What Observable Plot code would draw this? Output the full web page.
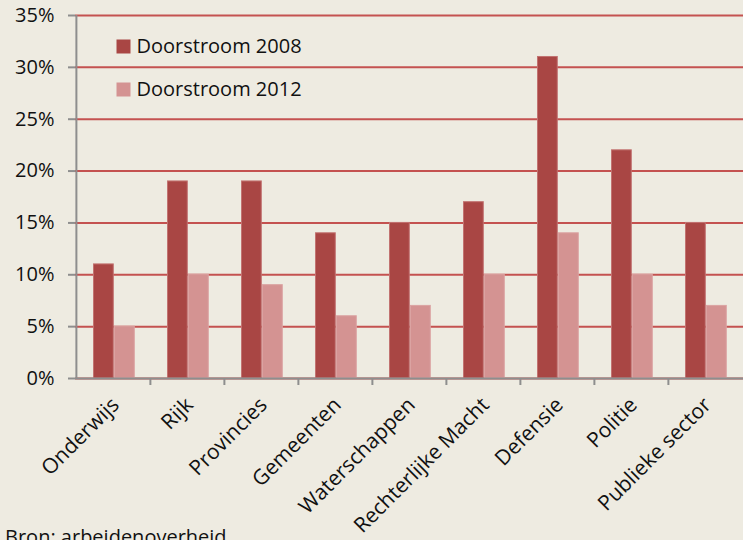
<!DOCTYPE html>
<html>
<head>
<meta charset="utf-8">
<script src="https://cdn.jsdelivr.net/npm/d3@7"></script>
<script src="https://cdn.jsdelivr.net/npm/@observablehq/plot@0.6"></script>
<style>
  html, body { margin: 0; padding: 0; background: #EEEBE1; overflow: hidden; }
  #chart { width: 743px; height: 540px; position: relative; font-family: "Open Sans", sans-serif; }
  #chart svg { position: absolute; left: 0; top: 0; }
  #caption { position: absolute; left: 5px; top: 527px; font-size: 20px; line-height: 1; color: #111; white-space: nowrap; }
</style>
</head>
<body>
<div id="chart"></div>
<script>
const categories = ["Onderwijs", "Rijk", "Provincies", "Gemeenten", "Waterschappen", "Rechterlijke Macht", "Defensie", "Politie", "Publieke sector"];
const series = ["Doorstroom 2008", "Doorstroom 2012"];
const values2008 = [11, 19, 19, 14, 15, 17, 31, 22, 15];
const values2012 = [5, 10, 9, 6, 7, 10, 14, 10, 7];
const yTicks = [0, 5, 10, 15, 20, 25, 30, 35];
const caption = "Bron: arbeidenoverheid";

const colors = {"Doorstroom 2008": "#A94644", "Doorstroom 2012": "#D49392"};
const outlines = {"Doorstroom 2008": "#C27371", "Doorstroom 2012": "#DBA3A2"};
const grid = "#C45250";
const axisGray = "#8E8E8E";

const d08 = categories.map((c, i) => ({category: c, value: values2008[i]}));
const d12 = categories.map((c, i) => ({category: c, value: values2012[i]}));

const width = 743, marginLeft = 75, marginRight = 0;
const bw = (width - marginLeft - marginRight) / categories.length;

const chart = Plot.plot({
  width,
  height: 540,
  marginLeft,
  marginRight,
  marginTop: 15,
  marginBottom: 162,
  style: {background: "transparent", fontFamily: "Open Sans, sans-serif", fontSize: "20px", color: "#111"},
  x: {domain: categories, padding: 0, axis: null},
  y: {domain: [0, 35], axis: null, label: null},
  marks: [
    Plot.ruleY(yTicks, {y: d => d, stroke: grid, strokeWidth: 2}),
    Plot.barY(d08, {x: "category", y: "value", fill: colors[series[0]], stroke: outlines[series[0]], strokeWidth: 1, insetLeft: 17.5, insetRight: bw - 37.5}),
    Plot.barY(d12, {x: "category", y: "value", fill: colors[series[1]], stroke: outlines[series[1]], strokeWidth: 1, insetLeft: 38.5, insetRight: bw - 58.5}),
    Plot.ruleY([0], {y: d => d, stroke: axisGray, strokeWidth: 2}),
    Plot.ruleX([categories[0]], {x: d => d, y1: yTicks[0], y2: yTicks[yTicks.length - 1], dx: -bw / 2, stroke: axisGray, strokeWidth: 2}),
    Plot.axisY(yTicks, {anchor: "left", label: null, tickSize: 7, tickPadding: 14, stroke: axisGray, strokeWidth: 2, tickFormat: d => d + "%", fontSize: 20, fill: "#111"}),
    Plot.ruleX(categories.slice(1), {x: d => d, y1: 0, y2: 0, insetBottom: -7, dx: -bw / 2, stroke: axisGray, strokeWidth: 2}),
    Plot.text(categories, {x: d => d, frameAnchor: "bottom", rotate: -45, textAnchor: "end", lineAnchor: "middle", dx: 2, dy: 23, fontSize: 21, fill: "#111"}),
    Plot.dot([series[0]], {frameAnchor: "top-left", dx: 48, dy: 31, symbol: "square", r: 7.9, fill: colors[series[0]]}),
    Plot.text([series[0]], {frameAnchor: "top-left", dx: 61, dy: 31, text: d => d, textAnchor: "start", lineAnchor: "middle", fontSize: 20, fill: "#111"}),
    Plot.dot([series[1]], {frameAnchor: "top-left", dx: 48, dy: 74, symbol: "square", r: 7.9, fill: colors[series[1]]}),
    Plot.text([series[1]], {frameAnchor: "top-left", dx: 61, dy: 74, text: d => d, textAnchor: "start", lineAnchor: "middle", fontSize: 20, fill: "#111"})
  ]
});
document.getElementById("chart").appendChild(chart);
const cap = document.createElement("div");
cap.id = "caption";
cap.textContent = caption;
document.getElementById("chart").appendChild(cap);
</script>
</body>
</html>
